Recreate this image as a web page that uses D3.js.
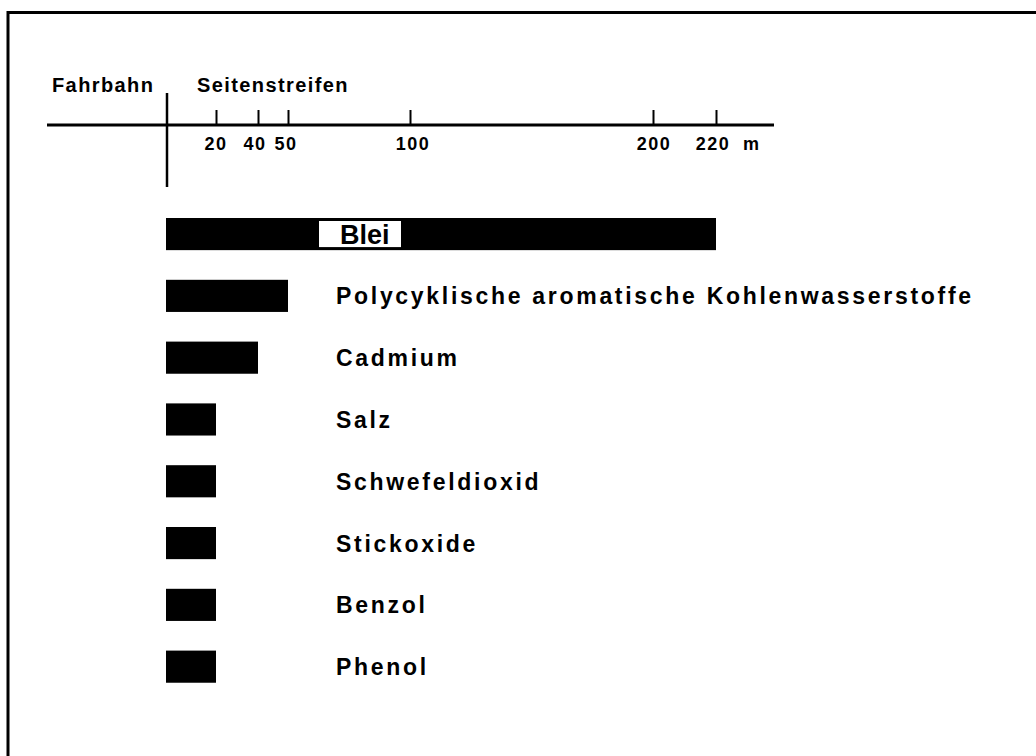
<!DOCTYPE html>
<html><head><meta charset="utf-8">
<script src="https://cdn.jsdelivr.net/npm/d3@7"></script>
<style>
html,body{margin:0;padding:0;background:#fff;}
svg{display:block;}
text{font-family:"Liberation Sans",Arial,Helvetica,sans-serif;fill:#000;}
</style></head>
<body>
<script>
// ---- data ----
const categories = ["Blei","Polycyklische aromatische Kohlenwasserstoffe","Cadmium","Salz","Schwefeldioxid","Stickoxide","Benzol","Phenol"];
const distances = [220, 50, 40, 20, 20, 20, 20, 20]; // Reichweite in m
const tickValues = [20, 40, 50, 100, 200, 220];
const tickLabels = ["20","40","50","100","200","220"];
const unitLabel = "m";
const leftLabel = "Fahrbahn";
const rightLabel = "Seitenstreifen";

const W = 1036, H = 756;
const svg = d3.select("body").append("svg").attr("width", W).attr("height", H);

// frame (only top/left visible in crop)
svg.append("path").attr("d", `M8,${H} L8,12.5 L${W},12.5`)
  .attr("fill","none").attr("stroke","#000").attr("stroke-width",3);

// hand-drawn, slightly non-uniform scale: knots at tick marks
const x = d3.scaleLinear()
  .domain([0, 20, 40, 50, 100, 200, 220])
  .range([167, 216, 258, 288, 410, 653, 716]);

const axisY = 125;
svg.append("line").attr("x1",47).attr("x2",774).attr("y1",axisY).attr("y2",axisY)
  .attr("stroke","#000").attr("stroke-width",3);
svg.append("line").attr("x1",x(0)).attr("x2",x(0)).attr("y1",93).attr("y2",187)
  .attr("stroke","#000").attr("stroke-width",2.5);

const axis = d3.axisTop(x).tickValues(tickValues).tickSize(15).tickFormat("");
const ag = svg.append("g").attr("transform",`translate(0,${axisY})`).call(axis);
ag.select(".domain").remove();
ag.selectAll(".tick line").attr("stroke","#000").attr("stroke-width",2);

const labOffsets = [0,-3,-2,3,1,-3];
svg.append("g").selectAll("text").data(tickValues).join("text")
  .attr("x",(d,i)=>x(d)+labOffsets[i]).attr("y",150)
  .attr("text-anchor","middle")
  .style("font-size","18px").style("font-weight","bold").style("letter-spacing","1.5px")
  .text((d,i)=>tickLabels[i]);
svg.append("text").attr("x",743).attr("y",150)
  .style("font-size","18px").style("font-weight","bold").text(unitLabel);

svg.append("text").attr("x",52).attr("y",92)
  .style("font-size","20px").style("font-weight","bold").style("letter-spacing","1.4px").text(leftLabel);
svg.append("text").attr("x",197).attr("y",92)
  .style("font-size","20px").style("font-weight","bold").style("letter-spacing","1.4px").text(rightLabel);

// bars
const y = d3.scaleBand().domain(categories).range([218, 218 + 61.8*7.52])
  .paddingInner(0.48).paddingOuter(0);

svg.append("g").selectAll("rect").data(categories).join("rect")
  .attr("x", x(0)-1)
  .attr("y", d=>y(d))
  .attr("width",(d,i)=>x(distances[i]) - x(0) + 1)
  .attr("height", y.bandwidth())
  .attr("fill","#000");

svg.append("g").selectAll("text").data(categories.slice(1)).join("text")
  .attr("x",336)
  .attr("y", d=>y(d)+y.bandwidth()/2+8.5)
  .style("font-size","23px").style("font-weight","bold").style("letter-spacing","2.7px")
  .text(d=>d);

const b0 = categories[0];
svg.append("rect").attr("x",318.5).attr("y",y(b0)+2.5).attr("width",83).attr("height",y.bandwidth()-5)
  .attr("fill","#fff").attr("stroke","#000").attr("stroke-width",1);
svg.append("text").attr("x",340).attr("y",y(b0)+y.bandwidth()/2+10)
  .style("font-size","27px").style("font-weight","bold").text(b0);
</script>
</body></html>
